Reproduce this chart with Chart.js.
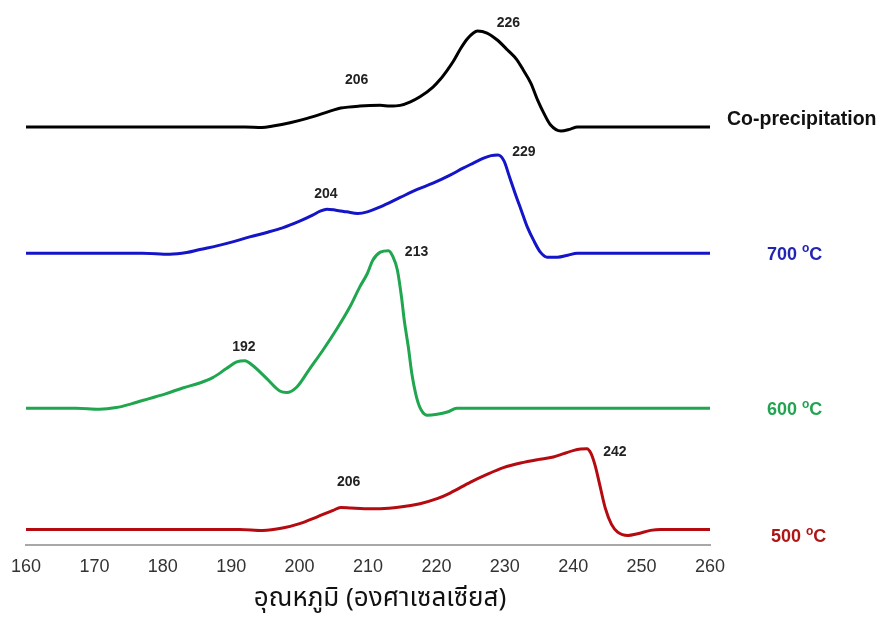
<!DOCTYPE html>
<html>
<head>
<meta charset="utf-8">
<script src="https://cdn.jsdelivr.net/npm/chart.js@4/dist/chart.umd.min.js"></script>
<style>
  html, body { margin: 0; padding: 0; background: #ffffff; }
  #wrap { width: 879px; height: 630px; position: relative; }
</style>
</head>
<body>
<div id="wrap"><canvas id="dsc"></canvas></div>
<script>
// DSC traces, temperature (°C) against heat-flow signal above each trace's own baseline
const seriesNames = ['Co-precipitation', '700 °C', '600 °C', '500 °C'];
const baselineOffsets = [418, 292, 137, 16];

const coprecipTemp = [160, 185, 192, 194.5, 196.1, 198.6, 201.1, 203.0, 204.9, 206.0, 208.8, 211.8, 213.2, 214.7, 216.2, 217.6, 219.5, 220.6, 221.6, 222.5, 223.5, 224.5, 225.4, 226.0, 227.4, 228.9, 230.4, 231.8, 232.7, 233.8, 234.8, 235.7, 236.7, 238.2, 239.6, 240.6, 242.1, 260];
const coprecipSignal = [0, 0, 0, -0.5, 1, 4.3, 8.7, 12.7, 17, 19, 21, 21.7, 21, 21.7, 25.3, 30.3, 40, 48, 57, 66, 78, 88, 94, 96, 94, 87, 77, 67, 57, 44, 27, 14, 2, -4, -2, 0, 0, 0];

const calc700Temp = [160, 177, 181.0, 183.5, 185.4, 187.9, 190.2, 192.7, 195.2, 197.5, 200.0, 201.9, 203.0, 204.0, 205.3, 206.9, 208.5, 209.9, 211.8, 214.7, 217.2, 219.5, 222.0, 223.9, 225.4, 226.9, 228.0, 229.0, 229.9, 230.6, 231.5, 232.4, 233.3, 234.2, 235.2, 236.2, 237.7, 239.2, 240.6, 260];
const calc700Signal = [0, 0, -1, 0.7, 3.7, 7.3, 11.3, 16.3, 20.7, 25.3, 32, 38, 42, 44, 43, 41.3, 39.7, 41.3, 46.3, 55.7, 63.7, 70, 78, 85, 90, 95, 97.5, 98, 92, 78, 60, 43, 26, 13, 1, -4, -4, -2, 0, 0];

const calc600Temp = [160, 167.3, 170.7, 173.2, 175.5, 178.0, 180.5, 182.9, 185.4, 187.3, 189.3, 190.8, 192.0, 193.1, 195.2, 197.1, 198.1, 199.6, 201.5, 203.4, 205.5, 207.4, 208.8, 209.9, 210.7, 211.8, 213.0, 213.6, 214.3, 214.9, 215.3, 215.9, 216.4, 217.1, 217.8, 218.7, 220.1, 221.6, 223.0, 260];
const calc600Signal = [0, 0, -1, 0.7, 4.7, 9.7, 14.7, 20.3, 25.3, 30.7, 39.7, 46.3, 47.5, 43, 29.7, 17.3, 15.7, 21.3, 39.7, 58, 80, 102, 121.3, 134.7, 148, 156, 157.5, 152, 138, 111, 88, 61, 35, 11, -2, -7, -6, -3.7, 0, 0];

const calc500Temp = [160, 191.2, 194.6, 197.5, 200.0, 202.5, 204.9, 206.0, 207.5, 209.5, 211.8, 214.7, 217.6, 220.1, 222.0, 225.0, 227.4, 229.8, 232.3, 234.8, 237.1, 238.6, 240.1, 241.1, 242.0, 242.6, 243.2, 243.9, 244.7, 245.6, 246.5, 248.0, 249.4, 251.3, 252.8, 260];
const calc500Signal = [0, 0, -1, 1.3, 5.7, 12.3, 19, 21.8, 21.3, 20.7, 20.7, 22.3, 25.7, 30.7, 36.3, 47.3, 55, 61.7, 66.3, 69.7, 72.3, 75.7, 79, 80.3, 80.7, 76, 64, 44, 21, 5, -2.7, -6, -4.3, -1, 0, 0];

// peak temperatures annotated on each trace
const peakTemps = [[206, 226], [204, 229], [192, 213], [206, 242]];

const xAxisTitle = 'อุณหภูมิ (องศาเซลเซียส)';

const temps = [coprecipTemp, calc700Temp, calc600Temp, calc500Temp];
const signals = [coprecipSignal, calc700Signal, calc600Signal, calc500Signal];
const lineColors = ['#000000', '#1414c8', '#1fa64f', '#b40a10'];
const nameColors = ['#111111', '#2323b4', '#22a352', '#b01515'];

// offsets (px) of the peak labels from their peak, and of the trace names from the trace end
const peakLabelShift = [[[16, -28], [31, -8]], [[-1, -15], [26, -3]], [[-1, -14], [28, 1]], [[8, -25], [28, 4]]];
const nameShift = [[17, -7], [57, 2], [57, 2], [61, 8]];

const datasets = seriesNames.map((name, i) => ({
  label: name,
  data: temps[i].map((t, j) => ({ x: t, y: baselineOffsets[i] + signals[i][j] })),
  borderColor: lineColors[i],
  borderWidth: 3,
  pointRadius: 0,
  fill: false,
  cubicInterpolationMode: 'monotone'
}));

const annotate = {
  id: 'annotate',
  afterDatasetsDraw(chart) {
    const ctx = chart.ctx;
    const area = chart.chartArea;
    ctx.save();
    // peak temperatures
    ctx.font = 'bold 14px "Liberation Sans", Arial, sans-serif';
    ctx.fillStyle = '#222222';
    ctx.textAlign = 'center';
    ctx.textBaseline = 'middle';
    peakTemps.forEach((list, i) => {
      const meta = chart.getDatasetMeta(i);
      list.forEach((t, k) => {
        const j = datasets[i].data.findIndex(p => p.x === t);
        if (j < 0) return;
        const el = meta.data[j];
        const s = peakLabelShift[i][k];
        ctx.fillText(String(t), el.x + s[0], el.y + s[1]);
      });
    });
    // trace names at the right end of each trace
    seriesNames.forEach((name, i) => {
      const meta = chart.getDatasetMeta(i);
      const last = meta.data[meta.data.length - 1];
      const x0 = last.x + nameShift[i][0];
      const y0 = last.y + nameShift[i][1];
      ctx.fillStyle = nameColors[i];
      ctx.textAlign = 'left';
      ctx.textBaseline = 'middle';
      const m = name.match(/^(\d+) °C$/);
      if (m) {
        ctx.font = 'bold 18px "Liberation Sans", Arial, sans-serif';
        const num = m[1] + ' ';
        ctx.fillText(num, x0, y0);
        let x = x0 + ctx.measureText(num).width;
        ctx.font = 'bold 12px "Liberation Sans", Arial, sans-serif';
        ctx.fillText('o', x, y0 - 6);
        x += ctx.measureText('o').width;
        ctx.font = 'bold 18px "Liberation Sans", Arial, sans-serif';
        ctx.fillText('C', x, y0);
      } else {
        ctx.font = 'bold 19.5px "Liberation Sans", Arial, sans-serif';
        ctx.fillText(name, x0, y0);
      }
    });
    // axis title
    ctx.fillStyle = '#111111';
    ctx.font = '26px "Noto Sans Thai", "Noto Sans", "DejaVu Sans", sans-serif';
    ctx.textAlign = 'center';
    ctx.textBaseline = 'middle';
    ctx.fillText(xAxisTitle, (area.left + area.right) / 2 + 12, 601);
    ctx.restore();
  }
};

new Chart(document.getElementById('dsc'), {
  type: 'line',
  data: { datasets },
  options: {
    responsive: true,
    maintainAspectRatio: false,
    animation: false,
    layout: { padding: { left: 25, right: 169, top: 5, bottom: 41 } },
    plugins: { legend: { display: false }, tooltip: { enabled: false } },
    scales: {
      x: {
        type: 'linear',
        min: 160,
        max: 260,
        grid: { display: false, drawTicks: false },
        border: { display: true, color: '#a8a8a8', width: 2 },
        ticks: {
          stepSize: 10,
          padding: 11,
          color: '#333333',
          font: { family: '"Liberation Sans", Arial, sans-serif', size: 18 }
        }
      },
      y: {
        display: false,
        min: 0,
        max: 540
      }
    }
  },
  plugins: [annotate]
});
</script>
</body>
</html>
